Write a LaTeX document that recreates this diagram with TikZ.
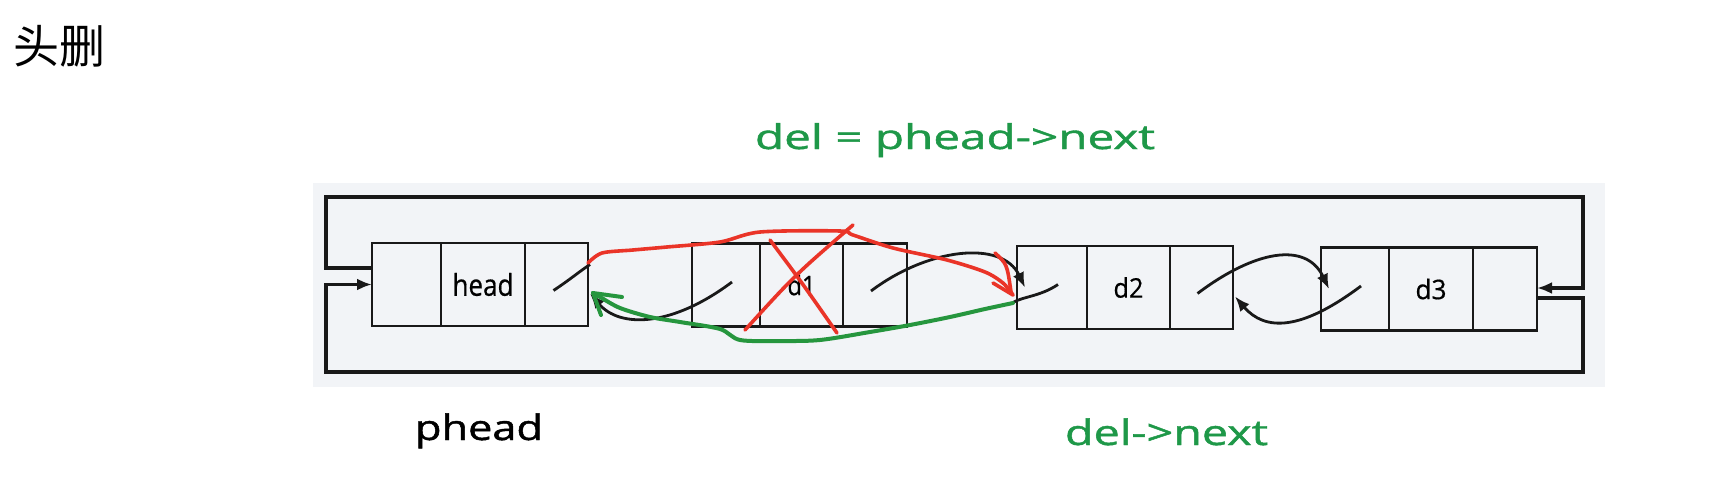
\documentclass[tikz,border=0pt]{standalone}
\usepackage{fontspec}
\usepackage{graphicx}
\newfontfamily\cjkfont{Noto Sans CJK SC}
\newfontfamily\labfont[FakeBold=0.6]{Open Sans}
\newfontfamily\bigfont[FakeBold=1.2]{Open Sans}
\usetikzlibrary{arrows.meta,calc}
\definecolor{panelbg}{RGB}{242,244,247}
\definecolor{ink}{RGB}{25,25,25}
\definecolor{txtgreen}{RGB}{30,152,72}
\definecolor{pengreen}{RGB}{38,150,62}
\definecolor{penred}{RGB}{234,52,40}
\begin{document}
\begin{tikzpicture}[x=1pt,y=-1pt,
  cell/.style={draw=ink, line width=2.9pt, fill=panelbg, minimum height=83pt, inner sep=0pt, outer sep=0pt},
  ptr/.style={draw=ink, line width=2.8pt, -{Latex[length=15pt,width=12pt]}},
  slash/.style={draw=ink, line width=2.8pt},
  wire/.style={draw=ink, line width=3.1pt, -{Latex[length=15pt,width=12pt]}},
  redpen/.style={draw=penred, line width=3.6pt, line cap=round, line join=round},
  greenpen/.style={draw=pengreen, line width=4pt, line cap=round, line join=round},
  txt/.style={inner sep=0pt, outer sep=0pt}
]
\useasboundingbox (0,0) rectangle (1719,493);
\fill[white] (0,0) rectangle (1719,493);
\fill[panelbg] (313,183) rectangle (1605,387);

% head node
\node[cell, minimum width=69pt] (hp) at (406.5,284.5) {};
\node[cell, minimum width=84pt] (hd) at (483,284.5) {\resizebox{61pt}{\height}{\labfont\fontsize{30pt}{30pt}\selectfont head}};
\node[cell, minimum width=63pt] (hn) at (556.5,284.5) {};
% d1
\node[cell, minimum width=68pt] (ap) at (726,285) {};
\node[cell, minimum width=83pt] (ad) at (801.5,285) {\resizebox{28pt}{\height}{\labfont\fontsize{27pt}{27pt}\selectfont d1}};
\node[cell, minimum width=64pt] (an) at (875,285) {};
% d2
\node[cell, minimum width=70pt] (bp) at (1052,287.5) {};
\node[cell, minimum width=83pt] (bd) at (1128.5,287.5) {\resizebox{30pt}{\height}{\labfont\fontsize{27pt}{27pt}\selectfont d2}};
\node[cell, minimum width=63pt] (bn) at (1201.5,287.5) {};
% d3
\node[cell, minimum width=68pt] (cp) at (1355,289) {};
\node[cell, minimum width=84pt] (cd) at (1431,289) {\resizebox{31pt}{\height}{\labfont\fontsize{27pt}{27pt}\selectfont d3}};
\node[cell, minimum width=64pt] (cn) at (1505,289) {};

% outer circular wires
\draw[wire] ($(hp.west)+(0,-16.5)$) -| (326,197) -| (1583,288) -- ($(cn.east)+(0,-1)$);
\draw[wire] ($(cn.east)+(0,9)$) -| (1583,372) -| ($(hp.west)+(-46,0)$) -- (hp.west);

% next pointers (head->d1 mostly hidden under the red stroke)
\draw[slash] ($(hn.center)+(-3,6)$) .. controls +(18,-12) and +(-12,8) .. ($(hn.east)+(2,-20)$);
\draw[ptr] ($(an.center)+(-4,6)$) .. controls +(57,-43) and +(-23,-48) .. ($(bp.west)+(8,0)$);
\draw[ptr] ($(bn.center)+(-4,6)$) .. controls +(57,-43) and +(-23,-48) .. ($(cp.west)+(8,0)$);
% prev pointers
\draw[ptr] ($(ap.center)+(6,-3)$) .. controls +(-60,45) and +(30,35) .. ($(hn.east)+(2,9)$);
\draw[slash] ($(bp.center)+(6,-3)$) .. controls +(-18,12) and +(10,-6) .. ($(bp.west)+(-4,15)$);
\draw[ptr] ($(cp.center)+(6,-3)$) .. controls +(-60,45) and +(30,35) .. ($(bn.east)+(2,9)$);

% red annotation
\coordinate (rs) at ($(hn.east)+(0,-21.5)$);
\coordinate (re) at ($(bp.west)+(-4,7.5)$);
\draw[redpen] plot[smooth, tension=0.5] coordinates {(rs) (602,253) (633,250) (667,247) (720,242) (760,232) (840,231) (853,235) (893,248) (947,260) (985,272) (1003,283) (re)};
\draw[redpen] (995,253) .. controls (1007,264) .. ($(re)+(-2,-3)$);
\draw[redpen] (993,283) -- (re);
\draw[redpen] (770,240) .. controls (800,280) .. (837,333);
\draw[redpen] (853,225) .. controls (795,275) .. (745,330);

% green annotation
\coordinate (gs) at ($(bp.west)+(-4,15.5)$);
\coordinate (ga) at ($(hn.east)+(5,8.5)$);
\draw[greenpen] plot[smooth, tension=0.5] coordinates {(gs) (985,309) (950,317) (910,325) (870,332) (820,340) (780,341) (740,340) (720,329) (680,322) (650,317) (620,308) (600,297) (ga)};
\draw[greenpen] (ga) -- ++(29,4);
\draw[greenpen] (ga) -- ++(8,22);

% texts
\node[txt, anchor=center] (title) at (59.5,46) {\cjkfont\fontsize{46pt}{46pt}\selectfont 头删};
\node[txt, anchor=base west, text=txtgreen] (eq1) at (755,149) {\resizebox{400pt}{\height}{\bigfont\fontsize{34pt}{34pt}\selectfont del = phead->next}};
\node[txt, anchor=base west, text=black] (ph) at (415,440) {\resizebox{128pt}{\height}{\bigfont\fontsize{35pt}{35pt}\selectfont phead}};
\node[txt, anchor=base west, text=txtgreen] (dn) at (1065,445) {\resizebox{203pt}{\height}{\bigfont\fontsize{35pt}{35pt}\selectfont del->next}};
\end{tikzpicture}
\end{document}
